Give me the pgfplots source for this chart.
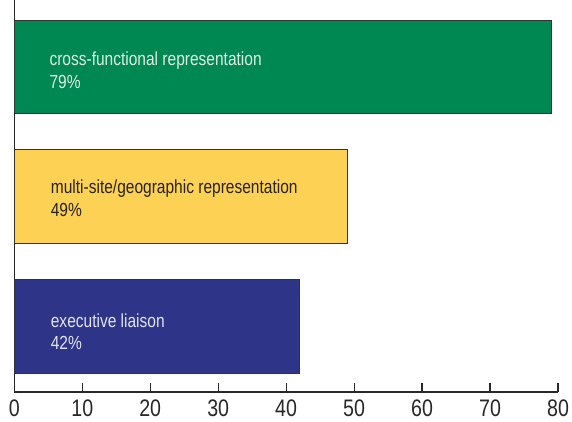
\documentclass[border=0pt]{standalone}
\usepackage{fontspec}
\setmainfont{Liberation Sans}[FakeStretch=0.82]
\usepackage{pgfplots}
\pgfplotsset{compat=1.18}
\definecolor{bgreen}{RGB}{0,136,82}
\definecolor{byellow}{RGB}{253,209,84}
\definecolor{bblue}{RGB}{46,53,137}
\definecolor{gtext}{RGB}{222,238,228}
\definecolor{ytext}{RGB}{40,36,24}
\definecolor{btext}{RGB}{226,226,242}
\definecolor{axcol}{RGB}{40,40,40}
\begin{document}
\begin{tikzpicture}
\begin{axis}[
  name=ax,
  scale only axis, width=543.7bp, height=392bp,
  xmin=0, xmax=80, ymin=0, ymax=392,
  axis x line=bottom, axis y line=left,
  axis line style={-, line width=1.3bp, color=axcol},
  xtick={0,10,...,80}, ytick=\empty,
  tick align=inside, major tick length=9bp,
  tick style={line width=1.2bp, color=axcol},
  xticklabel style={font=\fontsize{24}{28}\selectfont, text=axcol, inner sep=0pt, anchor=north, yshift=-8bp},
  /pgf/number format/assume math mode=true,
  xbar, bar shift=0pt, bar width=93.5,
  clip=false,
]
\addplot[fill=bgreen, draw=black!80, line width=0.8bp] coordinates {(79,325)};
\addplot[fill=byellow, draw=black!80, line width=0.8bp] coordinates {(49,195.5)};
\addplot[fill=bblue, draw=black!80, line width=0.8bp] coordinates {(42,65.5)};

\node[anchor=base west, inner sep=0pt, text=gtext, font=\fontsize{19}{22}\selectfont] at (axis cs:5.15,326.3) {cross-functional representation};
\node[anchor=base west, inner sep=0pt, text=gtext, font=\fontsize{19}{22}\selectfont] at (axis cs:5.15,303.7) {79\%};
\node[anchor=base west, inner sep=0pt, text=ytext, font=\fontsize{19}{22}\selectfont] at (axis cs:5.35,198.7) {multi-site/geographic representation};
\node[anchor=base west, inner sep=0pt, text=ytext, font=\fontsize{19}{22}\selectfont] at (axis cs:5.35,176) {49\%};
\node[anchor=base west, inner sep=0pt, text=btext, font=\fontsize{19}{22}\selectfont] at (axis cs:5.35,64.7) {executive liaison};
\node[anchor=base west, inner sep=0pt, text=btext, font=\fontsize{19}{22}\selectfont] at (axis cs:5.35,42.7) {42\%};
\end{axis}
\pgfresetboundingbox
\path ([shift={(-14.3bp,-29bp)}]ax.south west) rectangle ([shift={(14bp,0bp)}]ax.north east);
\end{tikzpicture}
\end{document}
